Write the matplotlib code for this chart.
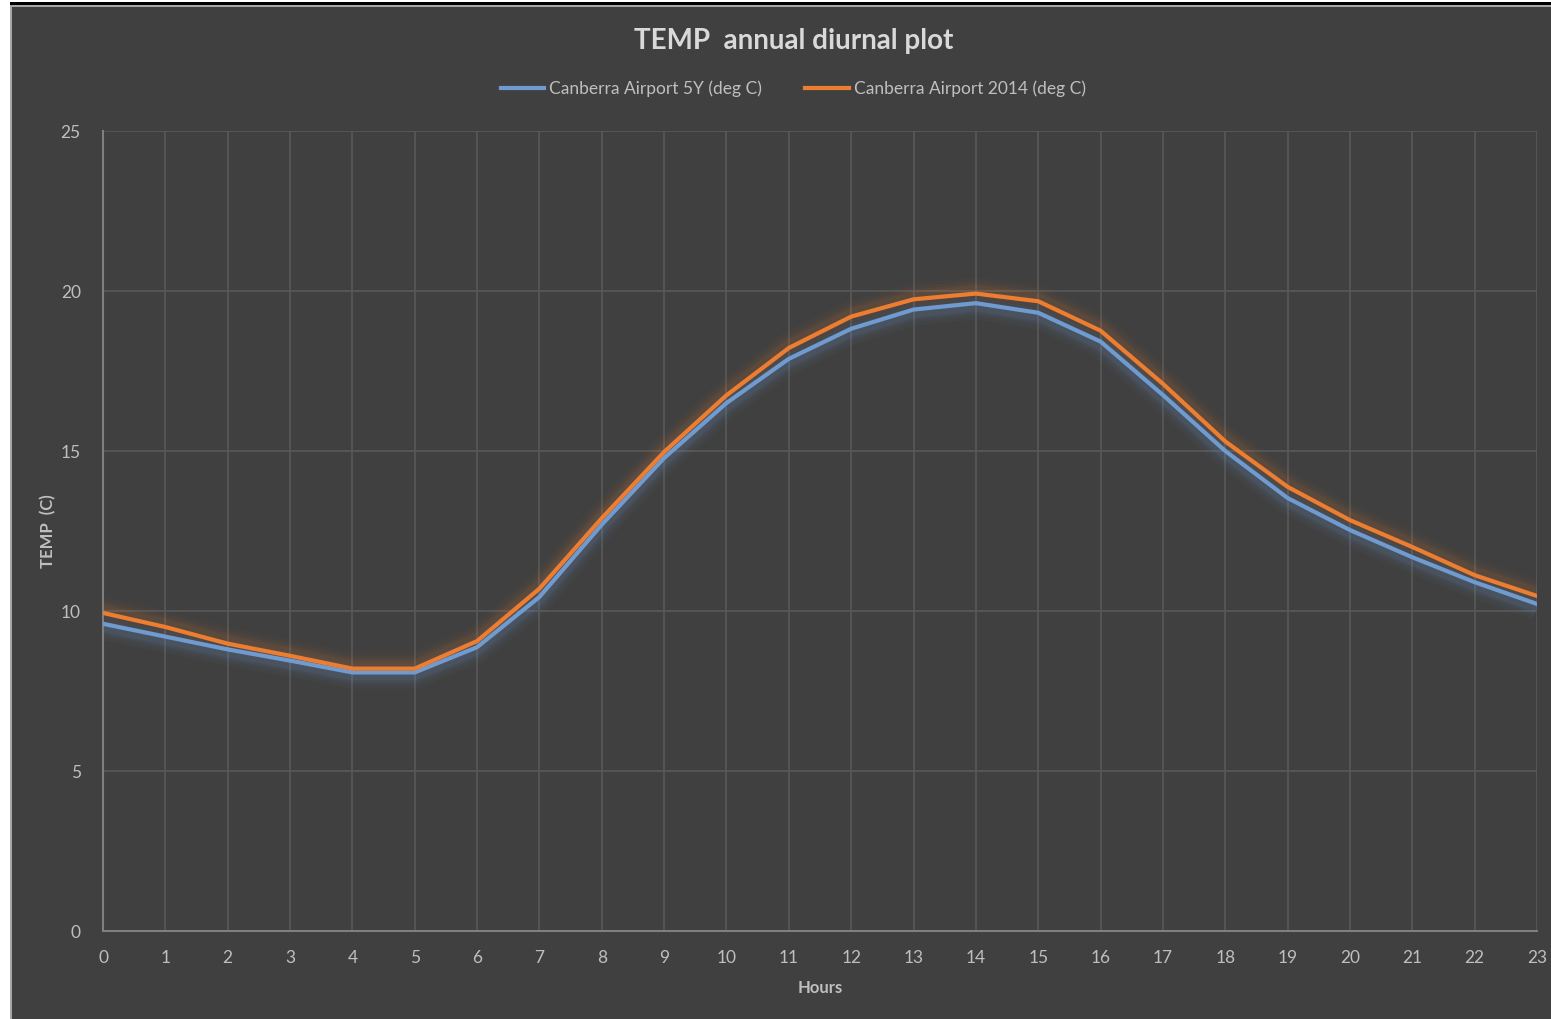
import matplotlib.pyplot as plt
import matplotlib.patches as mpatches
import numpy as np

# hourly means
hours = list(range(24))
temp_5y = [9.6, 9.2, 8.8, 8.45, 8.08, 8.08, 8.87, 10.44, 12.7, 14.78, 16.5, 17.88,
           18.82, 19.42, 19.62, 19.32, 18.42, 16.75, 15.0, 13.53, 12.53, 11.68, 10.9, 10.22]
temp_2014 = [9.94, 9.5, 8.98, 8.6, 8.2, 8.2, 9.06, 10.7, 12.9, 14.97, 16.74, 18.22,
             19.2, 19.74, 19.92, 19.68, 18.76, 17.1, 15.3, 13.88, 12.84, 12.0, 11.12, 10.47]
labels = ["Canberra Airport 5Y (deg C)", "Canberra Airport 2014 (deg C)"]

BG = "#404040"
TXT = "#bfbfbf"
plt.rcParams["font.family"] = ["Lato", "DejaVu Sans"]

fig = plt.figure(figsize=(15.51, 10.19), dpi=100)
fig.patch.set_facecolor(BG)

# frame bits from the screenshot: white strip on left, black line on top
fig.patches.append(mpatches.Rectangle((0, 0), 10 / 1551, 1, transform=fig.transFigure,
                                      facecolor="white", edgecolor="none", zorder=0))
fig.patches.append(mpatches.Rectangle((10 / 1551, 0), 2 / 1551, 1 - 5 / 1019, transform=fig.transFigure,
                                      facecolor="#a6a6a6", edgecolor="none", zorder=0))
fig.patches.append(mpatches.Rectangle((0, 1 - 2 / 1019), 1, 2 / 1019, transform=fig.transFigure,
                                      facecolor="white", edgecolor="none", zorder=0))
fig.patches.append(mpatches.Rectangle((10 / 1551, 1 - 5 / 1019), 1, 3 / 1019, transform=fig.transFigure,
                                      facecolor="black", edgecolor="none", zorder=0))
fig.patches.append(mpatches.Rectangle((10 / 1551, 1 - 7 / 1019), 1, 2 / 1019, transform=fig.transFigure,
                                      facecolor="#a6a6a6", edgecolor="none", zorder=0))

ax = fig.add_axes([103 / 1551, 88 / 1019, 1434 / 1551, 800 / 1019])
ax.set_facecolor(BG)

# soft glow around the lines
for w, a in [(18, 0.04), (13, 0.06), (9, 0.08), (6, 0.1)]:
    ax.plot(hours, np.array(temp_5y) - 0.12, color="#6a8fc0", lw=w, alpha=a, solid_capstyle="butt", zorder=2)
    ax.plot(hours, np.array(temp_2014) + 0.12, color="#d07a3a", lw=w, alpha=a * 0.8, solid_capstyle="butt", zorder=2)

ax.plot(hours, temp_5y, color="#6f9bd0", lw=3, label=labels[0], zorder=4)
ax.plot(hours, temp_2014, color="#ed7d31", lw=3, label=labels[1], zorder=5)

ax.set_xlim(0, 23)
ax.set_ylim(0, 25)
ax.set_xticks(hours)
ax.set_yticks([0, 5, 10, 15, 20, 25])
ax.grid(True, color="#595959", lw=1.2, zorder=1)
for s in ["top", "right"]:
    ax.spines[s].set_visible(False)
for s in ["left", "bottom"]:
    ax.spines[s].set_color("#7f7f7f")
    ax.spines[s].set_linewidth(1.5)
ax.tick_params(length=0, colors=TXT, labelsize=12.5)
ax.tick_params(axis="x", pad=14)
ax.tick_params(axis="y", pad=16)

ax.set_xlabel("Hours", color=TXT, fontsize=12, fontweight="bold", labelpad=10)
ax.set_ylabel("TEMP  (C)", color=TXT, fontsize=12, fontweight="bold", labelpad=3)

fig.text(0.5115, 1 - 41 / 1019, "TEMP  annual diurnal plot", ha="center", va="center",
         color="#d9d9d9", fontsize=20, fontweight="bold")

leg = fig.legend(loc="center", bbox_to_anchor=(0.5115, 1 - 89 / 1019), ncol=2, frameon=False,
                 fontsize=12.5, labelcolor=TXT, handlelength=2.5, handletextpad=0.3, columnspacing=2.5)
for h in leg.get_lines():
    h.set_linewidth(3)

fig.savefig("out.png", dpi=100, facecolor=BG)
